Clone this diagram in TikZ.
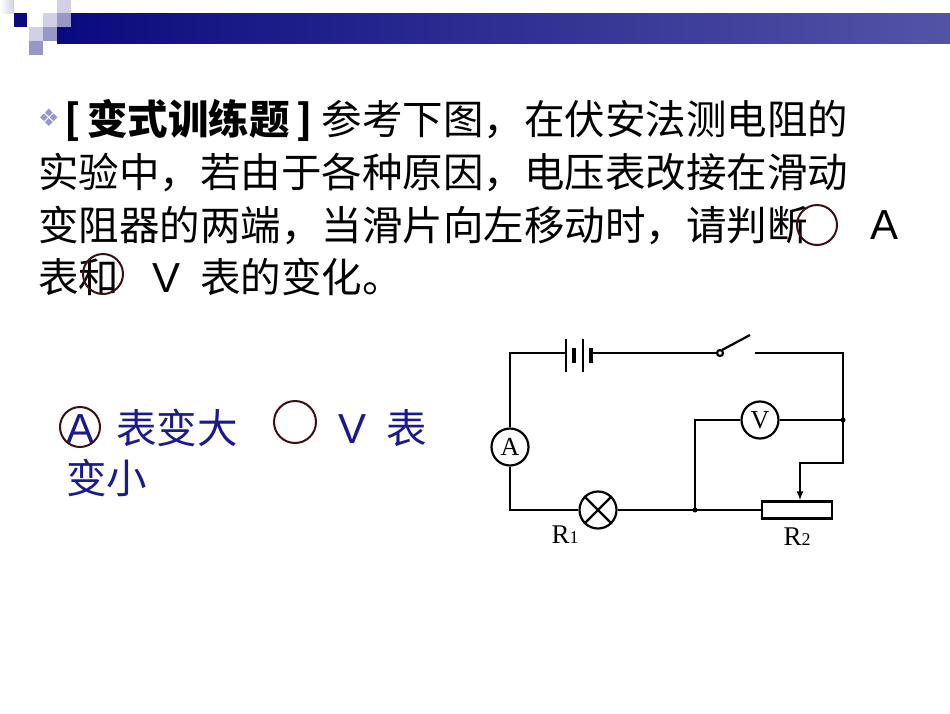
\documentclass[tikz,border=0pt]{standalone}
\usepackage{fontspec}
\usetikzlibrary{arrows.meta}
\setmainfont{Liberation Sans}
\newfontfamily\cjk{Noto Sans CJK SC}
\newfontfamily\sym{DejaVu Sans}
\newfontfamily\tms{Liberation Serif}
\definecolor{navy}{HTML}{0A0A80}
\definecolor{bluet}{HTML}{1A1A90}
\definecolor{ring}{HTML}{3A1010}
\definecolor{lsq}{HTML}{D0D0E8}
\definecolor{msq}{HTML}{9898C8}
\tikzset{
  txt/.style={anchor=west,inner sep=0,font=\cjk\fontsize{40.5}{40}\selectfont},
  btxt/.style={txt,text=bluet},
  wire/.style={line width=2.2pt},
  meter/.style={circle,draw,line width=2.2pt,minimum size=37pt,inner sep=0,font=\tms\fontsize{26}{26}\selectfont},
  ringmark/.style={draw=ring,line width=2pt},
  lbl/.style={font=\tms\fontsize{27}{27}\selectfont,inner sep=0}
}
\newcommand{\lat}[1]{{\fontspec{Liberation Sans}\fontsize{42}{40}\selectfont #1}}
\begin{document}
\begin{tikzpicture}[x=1pt,y=-1pt]
\useasboundingbox[fill=white] (0,0) rectangle (950,713);
% header
\shade[left color=navy,right color=navy!70!white] (57,13) rectangle (950,43);
\shade[left color=white,right color=lsq] (0,0) rectangle (14,13);
\fill[navy] (14,13) rectangle (27,27);
\fill[lsq] (43,13) rectangle (57,27);
\fill[msq] (57,13) rectangle (71,27);
\fill[lsq] (57,0) rectangle (71,13);
\fill[lsq] (29,27) rectangle (43,41);
\fill[msq] (43,27) rectangle (57,41);
\fill[msq] (29,41) rectangle (43,55);
% text
\node[anchor=west,inner sep=0,text=msq,font=\sym\fontsize{24}{24}\selectfont] (bul) at (38,118) {❖};
\node[txt] (l1) at (64,120) {\textbf{[}\,{\bfseries 变式训练题}\,\textbf{]} 参考下图，在伏安法测电阻的};
\node[txt] (l2) at (38,172) {实验中，若由于各种原因，电压表改接在滑动};
\node[txt] (l3) at (38,225) {变阻器的两端，当滑片向左移动时，请判断};
\node[txt] (l3a) at (870,225) {\lat{A}};
\node[txt] (l4) at (38,277) {表和};
\node[txt] (l4a) at (152,277) {\lat{V}\hspace{20pt}表的变化。};
\draw[ringmark] (817,225) circle (20);
\draw[ringmark] (103,274) circle (20);
% answer
\node[btxt] (a1) at (66,428) {\lat{A}\hspace{22pt}表变大};
\node[btxt] (a2) at (338,428) {\lat{V}\hspace{20pt}表};
\node[btxt] (a3) at (66,478) {变小};
\draw[ringmark] (80,427) circle (20);
\draw[ringmark] (295,422) circle (21);
% circuit
\coordinate (tl) at (510,353);
\coordinate (tr) at (843,353);
\coordinate (bl) at (510,510);
\node[meter] (A) at (510,447) {A};
\node[meter] (V) at (760,420) {V};
\node[circle,draw,line width=2.2pt,minimum size=37pt,inner sep=0] (L) at (598,510) {};
\draw[line width=2.2pt] (L.45)--(L.225) (L.135)--(L.315);
\node[draw,line width=2.2pt,minimum width=70pt,minimum height=17pt,inner sep=0] (R2) at (797,510) {};
\coordinate (j1) at (695,510);
\coordinate (j2) at (843,420);
\coordinate (bt1) at (566,353);
\coordinate (bt2) at (591,353);
\coordinate (sw) at (720,353);
\coordinate (sr) at (755,353);
\draw[wire] (A.north) -- (tl) -- (bt1);
\draw[wire] (566,339) -- (566,372) (583,339) -- (583,372);
\draw[line width=3.5pt] (574,348) -- (574,363) (591,348) -- (591,363);
\draw[wire] (bt2) -- ([xshift=-3pt]sw);
\draw[wire] (sw) circle (3pt);
\draw[wire] (722,350) -- (750,335);
\draw[wire] (sr) -- (tr) -- (j2) -- (843,463) -- (800,463) -- (800,484);
\draw[-{Latex[length=9pt,width=7pt]},line width=2.2pt] (800,480) -- (R2.north -| 800,0);
\draw[wire] (A.south) -- (bl) -- (L.west);
\draw[wire] (L.east) -- (j1) -- (R2.west);
\draw[wire] (j1) -- (695,420) -- (V.west);
\draw[wire] (V.east) -- (j2);
\fill (j1) circle (2.5pt) (j2) circle (2.5pt);
\node[lbl] (r1) at (565,535) {R\fontsize{18}{18}\selectfont 1};
\node[lbl] (r2) at (797,537) {R\fontsize{18}{18}\selectfont 2};
\end{tikzpicture}
\end{document}
